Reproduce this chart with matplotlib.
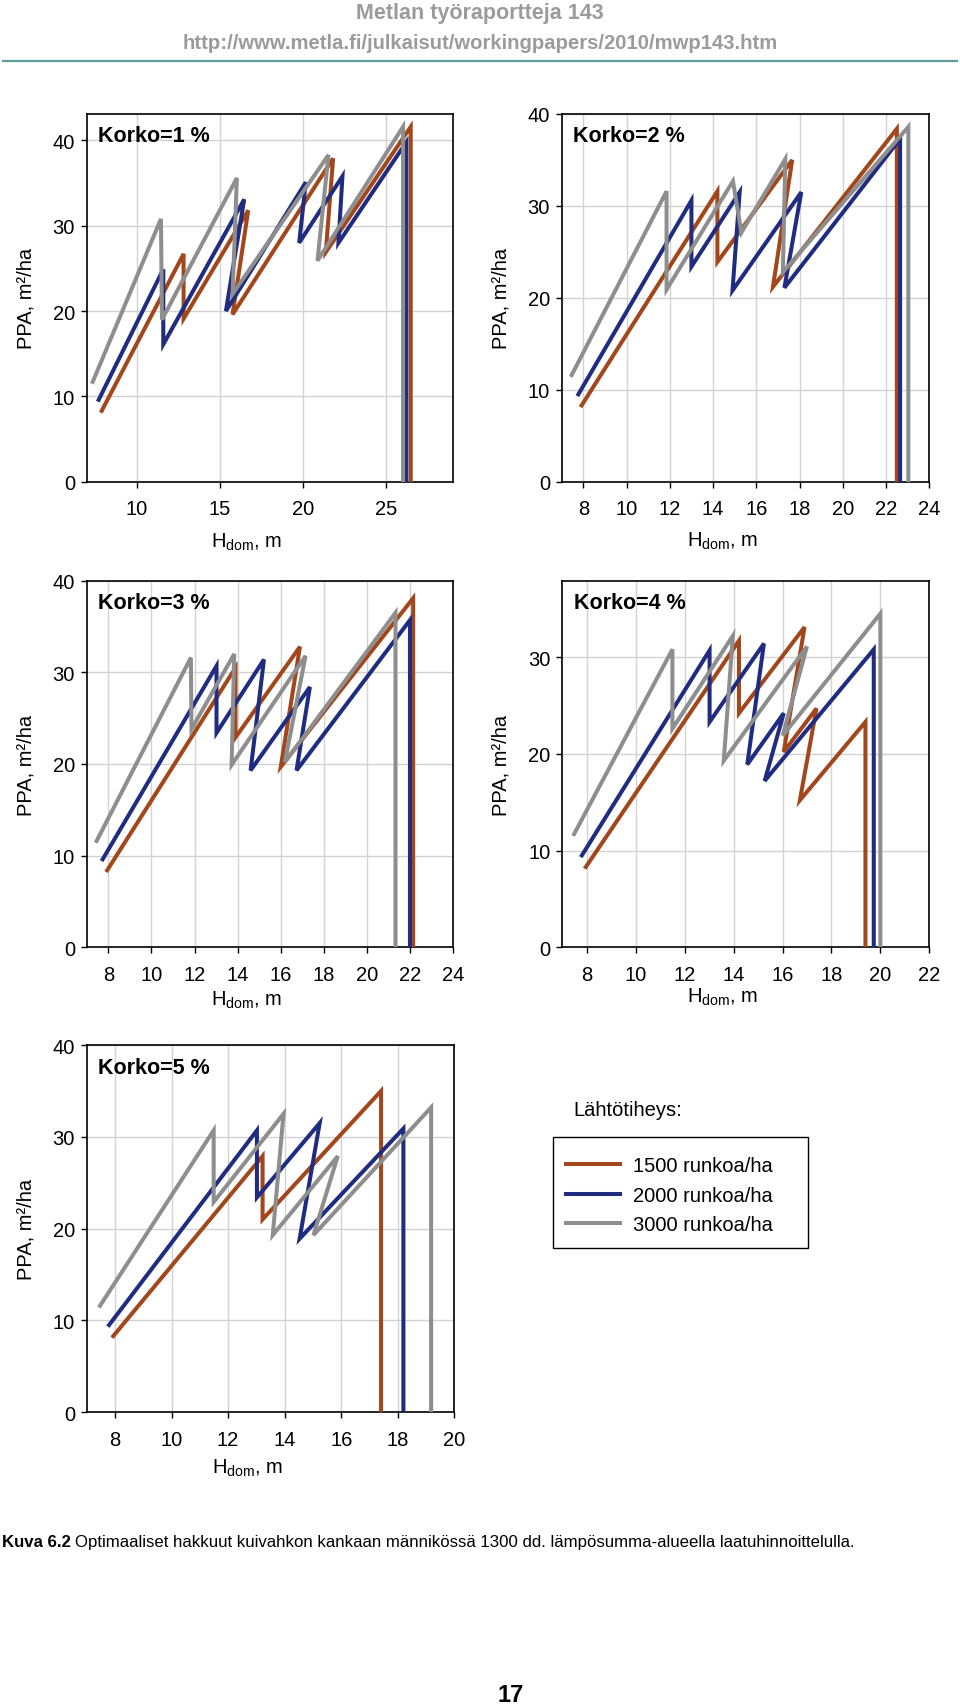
import matplotlib
matplotlib.use("Agg")
import matplotlib.pyplot as plt
from matplotlib.lines import Line2D
from matplotlib.patches import Rectangle

plt.rcParams['font.family'] = ['Liberation Sans', 'DejaVu Sans']
plt.rcParams['mathtext.fontset'] = 'custom'
plt.rcParams['mathtext.rm'] = 'Liberation Sans'

# tiheydet ja värit
tiheydet = ["1500 runkoa/ha", "2000 runkoa/ha", "3000 runkoa/ha"]
varit = ["#a2471b", "#1f2c80", "#8e8e8e"]
korot = ["Korko=1 %", "Korko=2 %", "Korko=3 %", "Korko=4 %", "Korko=5 %"]

# Korko 1 %: H_dom (m) ja PPA (m2/ha)
h1_1500 = [7.9, 12.82, 12.82, 16.7, 15.76, 21.8, 21.36, 26.46, 26.46]
ppa1_1500 = [8.3, 26.7, 19.1, 31.8, 19.6, 37.9, 26.9, 41.6, 0]
h1_2000 = [7.72, 11.6, 11.6, 16.46, 15.36, 20.16, 19.76, 22.36, 22.12, 26.2, 26.2]
ppa1_2000 = [9.6, 24.9, 16.1, 33.1, 20.0, 35.1, 28.0, 35.8, 28.0, 39.8, 0]
h1_3000 = [7.36, 11.46, 11.52, 16.02, 15.76, 21.52, 20.86, 26.0, 26.0]
ppa1_3000 = [11.7, 30.8, 19.0, 35.6, 22.0, 38.3, 25.9, 41.6, 0]

# Korko 2 %
h2_1500 = [7.92, 14.2, 14.2, 17.66, 16.77, 22.5, 22.5]
ppa2_1500 = [8.3, 31.6, 23.9, 35.0, 21.2, 38.4, 0]
h2_2000 = [7.77, 13.0, 13.0, 15.23, 14.9, 18.08, 17.3, 22.65, 22.65]
ppa2_2000 = [9.5, 30.6, 23.4, 31.5, 20.8, 31.5, 21.1, 37.3, 0]
h2_3000 = [7.46, 11.85, 11.85, 14.92, 15.31, 17.34, 17.23, 23.03, 23.03]
ppa2_3000 = [11.6, 31.6, 20.9, 32.7, 27.1, 35.1, 22.8, 38.6, 0]

# Korko 3 %
h3_1500 = [7.95, 13.9, 13.9, 16.89, 16.0, 22.14, 22.14]
ppa3_1500 = [8.4, 30.5, 22.9, 32.8, 19.7, 38.1, 0]
h3_2000 = [7.74, 13.02, 13.02, 15.22, 14.6, 17.35, 16.73, 21.99, 21.99]
ppa3_2000 = [9.6, 30.7, 23.4, 31.4, 19.3, 28.4, 19.3, 35.7, 0]
h3_3000 = [7.46, 11.83, 11.86, 13.84, 13.72, 17.15, 16.19, 21.32, 21.32]
ppa3_3000 = [11.6, 31.6, 23.8, 32.0, 19.9, 31.8, 20.2, 36.5, 0]

# Korko 4 %
h4_1500 = [7.96, 14.22, 14.22, 16.9, 16.05, 17.39, 16.71, 19.39, 19.39]
ppa4_1500 = [8.3, 31.7, 24.2, 33.1, 20.2, 24.7, 15.2, 23.3, 0]
h4_2000 = [7.8, 13.02, 13.02, 15.24, 14.56, 16.05, 15.27, 19.73, 19.73]
ppa4_2000 = [9.5, 30.7, 23.3, 31.4, 18.9, 24.2, 17.2, 30.8, 0]
h4_3000 = [7.48, 11.5, 11.5, 13.97, 13.6, 17.0, 16.01, 20.0, 20.0]
ppa4_3000 = [11.7, 30.8, 22.6, 32.2, 19.3, 31.1, 21.9, 34.5, 0]

# Korko 5 %
h5_1500 = [7.94, 13.22, 13.22, 17.41, 17.41]
ppa5_1500 = [8.3, 27.9, 21.0, 35.0, 0]
h5_2000 = [7.79, 13.02, 13.02, 15.24, 14.53, 18.2, 18.2]
ppa5_2000 = [9.5, 30.7, 23.4, 31.5, 18.9, 30.9, 0]
h5_3000 = [7.47, 11.49, 11.49, 13.96, 13.58, 15.88, 15.02, 19.18, 19.18]
ppa5_3000 = [11.6, 30.7, 22.9, 32.5, 19.3, 27.9, 19.3, 33.2, 0]

sarjat = [
    [(h1_1500, ppa1_1500), (h1_2000, ppa1_2000), (h1_3000, ppa1_3000)],
    [(h2_1500, ppa2_1500), (h2_2000, ppa2_2000), (h2_3000, ppa2_3000)],
    [(h3_1500, ppa3_1500), (h3_2000, ppa3_2000), (h3_3000, ppa3_3000)],
    [(h4_1500, ppa4_1500), (h4_2000, ppa4_2000), (h4_3000, ppa4_3000)],
    [(h5_1500, ppa5_1500), (h5_2000, ppa5_2000), (h5_3000, ppa5_3000)],
]

W, H = 960, 1706
fig = plt.figure(figsize=(W / 100, H / 100), dpi=100)

# paneelien paikat pikseleinä (vasen, yla, oikea, ala) ja akselit
paneelit = [
    ((86.7, 115, 453, 482.7), (7, 29), [10, 15, 20, 25], (0, 43.1), [0, 10, 20, 30, 40]),
    ((561.7, 115, 929.3, 482.7), (7, 24), list(range(8, 25, 2)), (0, 40), [0, 10, 20, 30, 40]),
    ((86.7, 581.7, 453.3, 948.3), (7, 24), list(range(8, 25, 2)), (0, 40), [0, 10, 20, 30, 40]),
    ((562.3, 581.7, 929.3, 948.3), (7, 22), list(range(8, 23, 2)), (0, 37.9), [0, 10, 20, 30]),
    ((86.7, 1046, 454.3, 1413.3), (7, 20), list(range(8, 21, 2)), (0, 40), [0, 10, 20, 30, 40]),
]
xlabel_off = [60, 59, 52, 49, 55]

for i, (pos, xlim, xticks, ylim, yticks) in enumerate(paneelit):
    l, t, r, b = pos
    ax = fig.add_axes([l / W, 1 - b / H, (r - l) / W, (b - t) / H])
    for (h, ppa), c in zip(sarjat[i], varit):
        ax.plot(h, ppa, color=c, lw=2.9, solid_joinstyle="miter", zorder=3)
    ax.set_xlim(*xlim)
    ax.set_ylim(*ylim)
    ax.set_xticks(xticks)
    ax.set_yticks(yticks)
    ax.grid(True, color="#d2d2d2", lw=1.0, zorder=0)
    ax.tick_params(direction="out", length=4.5, width=1.0, labelsize=14.5, colors="black")
    ax.tick_params(axis="x", pad=8)
    ax.tick_params(axis="y", pad=4)
    for s in ax.spines.values():
        s.set_linewidth(1.2)
    ax.text(0.032, 1 - 22 / (b - t), korot[i], transform=ax.transAxes, fontsize=15.5,
            fontweight="bold", ha="left", va="center")
    ax.text(0.34, -xlabel_off[i] / (b - t), r"H$_{\mathrm{dom}}$, m", transform=ax.transAxes,
            fontsize=14.5, ha="left", va="center")
    ax.text(-61 / (r - l), 0.5, "PPA, m²/ha", transform=ax.transAxes, fontsize=14.5,
            rotation=90, ha="center", va="center")

# selite
fig.text(573 / W, 1 - 1110 / H, "Lähtötiheys:", fontsize=14.5, ha="left", va="center")
fig.patches.append(Rectangle((552.7 / W, 1 - 1249.3 / H), (808.3 - 552.7) / W, (1249.3 - 1138.3) / H,
                             transform=fig.transFigure, fill=False, edgecolor="black", lw=1.0))
kahvat = [Line2D([], [], color=c, lw=2.9) for c in varit]
fig.legend(kahvat, tiheydet, loc="upper left", bbox_to_anchor=(566 / W, 1 - 1157 / H),
           frameon=False, fontsize=14.5, handlelength=2.7, handletextpad=0.62,
           labelspacing=0.53, borderpad=0.0, borderaxespad=0.0)

# otsikko ja viiva
harmaa = "#9b9b9b"
fig.text(0.5, 1 - 13 / H, "Metlan työraportteja 143", fontsize=15.5, fontweight="bold",
         color=harmaa, ha="center", va="center")
fig.text(0.5, 1 - 43.5 / H, "http://www.metla.fi/julkaisut/workingpapers/2010/mwp143.htm",
         fontsize=14.6, fontweight="bold", color=harmaa, ha="center", va="center")
fig.add_artist(Line2D([3 / W, 957 / W], [1 - 62 / H, 1 - 62 / H], color="#5f9ea0", lw=1.6))

# kuvateksti: koko sovitetaan niin, että rivi mahtuu noin 853 pikselin leveyteen
renderer = fig.canvas.get_renderer()
y_kuva = 1 - 1543 / H
t1 = fig.text(2 / W, y_kuva, "Kuva 6.2", fontsize=14.5, fontweight="bold", ha="left", va="center")
t2 = fig.text(0, y_kuva,
              "Optimaaliset hakkuut kuivahkon kankaan männikössä 1300 dd. lämpösumma-alueella laatuhinnoittelulla.",
              fontsize=14.5, ha="left", va="center")
leveys = t1.get_window_extent(renderer).width + 4 + t2.get_window_extent(renderer).width
koko = 14.5 * 851 / leveys
t1.set_fontsize(koko)
t2.set_fontsize(koko)
bb = t1.get_window_extent(renderer)
t2.set_x((bb.x1 + 4) / W)

fig.text(511 / W, 1 - 1696 / H, "17", fontsize=17, fontweight="bold", ha="center", va="center")

fig.savefig("out.png", dpi=100)
